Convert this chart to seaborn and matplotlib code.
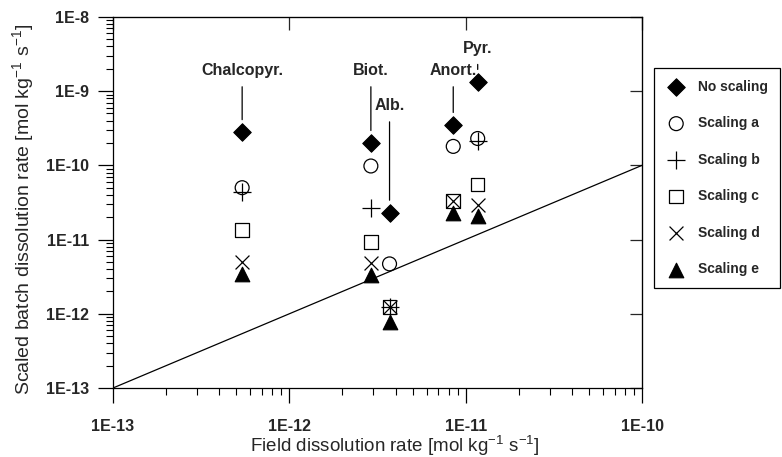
import numpy as np
import pandas as pd
import matplotlib
matplotlib.use("Agg")
import matplotlib.pyplot as plt
import seaborn as sns

# --- data ---
minerals = ["Chalcopyr.", "Biot.", "Alb.", "Anort.", "Pyr."]
field_rate = [5.4e-13, 2.9e-12, 3.7e-12, 8.5e-12, 1.17e-11]

no_scaling = [2.8e-10, 2.0e-10, 2.3e-11, 3.5e-10, 1.33e-9]
scaling_a = [5.0e-11, 9.8e-11, 4.7e-12, 1.8e-10, 2.3e-10]
scaling_b = [4.4e-11, 2.7e-11, 1.23e-12, np.nan, 2.1e-10]
scaling_c = [1.35e-11, 9.3e-12, 1.23e-12, 3.3e-11, 5.5e-11]
scaling_d = [5.0e-12, 4.8e-12, 1.23e-12, 3.3e-11, 2.9e-11]
scaling_e = [3.4e-12, 3.3e-12, 7.8e-13, 2.3e-11, 2.1e-11]

series_names = ["No scaling", "Scaling a", "Scaling b", "Scaling c", "Scaling d", "Scaling e"]
label_y = [1.9e-9, 1.9e-9, 6.4e-10, 1.9e-9, 3.8e-9]

line_x = [1e-13, 1e-10]
line_y = [1e-13, 1e-10]

xticks = [1e-13, 1e-12, 1e-11, 1e-10]
xtick_labels = ["1E-13", "1E-12", "1E-11", "1E-10"]
yticks = [1e-13, 1e-12, 1e-11, 1e-10, 1e-9, 1e-8]
ytick_labels = ["1E-13", "1E-12", "1E-11", "1E-10", "1E-9", "1E-8"]

# long-form table
values = [no_scaling, scaling_a, scaling_b, scaling_c, scaling_d, scaling_e]
rows = []
for name, vals in zip(series_names, values):
    for m, fx, v in zip(minerals, field_rate, vals):
        rows.append({"mineral": m, "scaling": name, "field": fx, "batch": v})
df = pd.DataFrame(rows).dropna()

# marker styles per series
styles = {
    "No scaling": dict(marker="D", s=80, color="black", edgecolor="black"),
    "Scaling a": dict(marker="o", s=100, facecolor="none", edgecolor="black", linewidth=0.9),
    "Scaling b": dict(marker="+", s=150, color="black", linewidth=0.9),
    "Scaling c": dict(marker="s", s=95, facecolor="none", edgecolor="black", linewidth=0.9),
    "Scaling d": dict(marker="x", s=100, color="black", linewidth=0.9),
    "Scaling e": dict(marker="^", s=110, color="black", edgecolor="black"),
}

sns.set_style("ticks")
plt.rcParams["font.family"] = ["Liberation Sans", "DejaVu Sans"]
plt.rcParams["mathtext.fontset"] = "custom"
plt.rcParams["mathtext.rm"] = "Liberation Sans"
plt.rcParams["mathtext.it"] = "Liberation Sans"

fig = plt.figure(figsize=(7.82, 4.57), dpi=100)
ax = fig.add_axes([0.1445, 0.151, 0.821 - 0.1445, 0.963 - 0.151])

# 1:1 line
sns.lineplot(x=line_x, y=line_y, ax=ax, color="black", linewidth=0.9)

for name in series_names:
    sub = df[df["scaling"] == name]
    sns.scatterplot(data=sub, x="field", y="batch", ax=ax, label=name, zorder=3, **styles[name])

ax.set_xscale("log")
ax.set_yscale("log")
ax.set_xlim(1e-13, 1e-10)
ax.set_ylim(1e-13, 1e-8)

ax.set_xticks(xticks, xtick_labels, fontsize=11.5, fontweight="bold")
ax.set_yticks(yticks, ytick_labels, fontsize=11.5, fontweight="bold")
ax.tick_params(which="major", direction="out", length=11, width=0.9, color="black")
ax.tick_params(which="minor", direction="out", length=5, width=0.8, color="black")
ax.tick_params(axis="x", which="major", pad=11)
ax.tick_params(axis="y", which="major", pad=6)

for sp in ax.spines.values():
    sp.set_color("black")
    sp.set_linewidth(0.9)

# inward ticks on top and right
top = ax.secondary_xaxis("top")
top.set_xticks(xticks)
top.tick_params(direction="in", length=9, width=0.9, labeltop=False)
top.xaxis.set_minor_locator(matplotlib.ticker.NullLocator())
right = ax.secondary_yaxis("right")
right.set_yticks(yticks)
right.tick_params(direction="in", length=9, width=0.9, labelright=False)
right.yaxis.set_minor_locator(matplotlib.ticker.NullLocator())

ax.set_xlabel("Field dissolution rate [mol kg$^{-1}$ s$^{-1}$]", fontsize=13.5, va="center")
ax.xaxis.set_label_coords(0.533, -0.155)
ax.set_ylabel("Scaled batch dissolution rate [mol kg$^{-1}$ s$^{-1}$]", fontsize=14, va="center")
ax.yaxis.set_label_coords(-0.17, 0.48)

# mineral labels with leader lines
for m, fx, dy, ly in zip(minerals, field_rate, no_scaling, label_y):
    ax.annotate(m, xy=(fx, dy), xytext=(fx, ly), ha="center", va="center",
                fontsize=11.5, fontweight="bold",
                arrowprops=dict(arrowstyle="-", color="black", lw=0.9, shrinkA=4, shrinkB=9))

handles, labels = ax.get_legend_handles_labels()
ax.get_legend().remove()
leg = fig.legend(handles, labels, loc="upper left", bbox_to_anchor=(654 / 782, 1 - 68 / 457),
                 borderaxespad=0, frameon=True, fancybox=False, edgecolor="black", framealpha=1,
                 prop={"size": 10, "weight": "bold"}, labelspacing=1.62,
                 handletextpad=0.8, borderpad=0.85, handlelength=1.5)
leg.get_frame().set_linewidth(0.9)

fig.savefig("out.png", dpi=100)
